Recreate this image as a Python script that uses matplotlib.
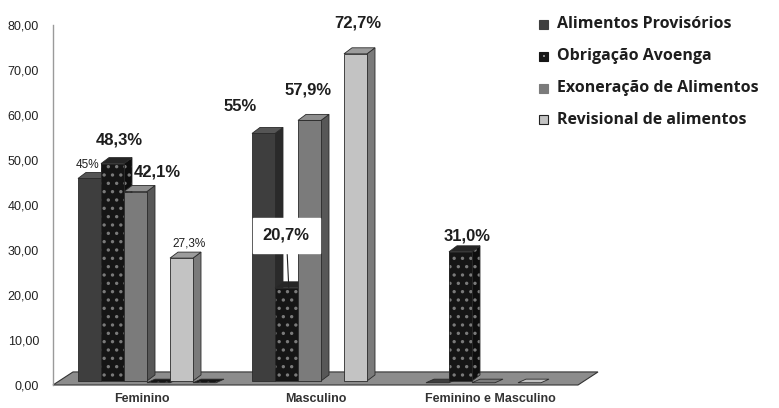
import numpy as np
import matplotlib
matplotlib.use("Agg")
import matplotlib.pyplot as plt
from matplotlib.patches import Polygon, Rectangle

# Data
groups = ["Feminino", "Masculino", "Feminino e Masculino"]
series = ["Alimentos Provisórios", "Obrigação Avoenga",
          "Exoneração de Alimentos", "Revisional de alimentos"]
alimentos_provisorios = [45.0, 55.0, 0.0]
obrigacao_avoenga = [48.3, 20.7, 28.7]
exoneracao_alimentos = [42.1, 57.9, 0.0]
revisional_alimentos = [27.3, 72.7, 0.0]
labels_ap = ["45%", "55%", None]
labels_oa = ["48,3%", "20,7%", "31,0%"]
labels_ea = ["42,1%", "57,9%", None]
labels_ra = ["27,3%", "72,7%", None]
# unnamed empty slots seen on the floor of the first group
extra_slots = [3, 5]
extra_values = [0.0, 0.0]
yticks = np.arange(0, 81, 10)

values = [alimentos_provisorios, obrigacao_avoenga, exoneracao_alimentos, revisional_alimentos]
labels = [labels_ap, labels_oa, labels_ea, labels_ra]
slots = [0, 1, 2, 4]

# style: front, side, top, hatch
styles = [
    dict(front="#3e3e3e", side="#2a2a2a", top="#555555", hatch=None),
    dict(front="#151515", side="#0e0e0e", top="#262626", hatch=".."),
    dict(front="#7b7b7b", side="#575757", top="#8e8e8e", hatch=None),
    dict(front="#c3c3c3", side="#7a7a7a", top="#9c9c9c", hatch=None),
]
# label style: (big bold?, dx pt, dy pt)
label_pos = [
    [(False, -1.8, 9.7), (True, -16.9, 19.1), None],
    [(True, 4.7, 17.0), (True, -1.8, 38.0), (True, 4.7, 11.4)],
    [(True, 15.5, 14.0), (True, -1.1, 21.9), None],
    [(False, 5.4, 10.8), (True, 1.8, 22.2), None],
]

plt.rcParams["hatch.linewidth"] = 1.2
W, H = 779, 408
fig = plt.figure(figsize=(W / 100, H / 100), dpi=100)
ax = fig.add_axes([53 / W, (H - 385) / H, (600 - 53) / W, 360 / H])

pitch = 174 / 23
ddx, ddy = 8 / 23, 6 / 4.5
base = 0.9
edge = "#2a2a2a"

ax.set_xlim(-25 / 23, (600 - 78) / 23)
ax.set_ylim(0, 80)

# floor
fl_x0, fl_x1 = -25 / 23, 500 / 23
fdx, fdy = 20 / 23, 2.9
ax.add_patch(Polygon([(fl_x0, 0), (fl_x1, 0), (fl_x1 + fdx, fdy), (fl_x0 + fdx, fdy)],
                     closed=True, facecolor="#8c8c8c", edgecolor="#333333", lw=0.8,
                     clip_on=False, zorder=1))


def face(pts, color, hatch=None, z=2):
    if hatch:
        ax.add_patch(Polygon(pts, closed=True, facecolor=color, edgecolor="#7a7a7a",
                             hatch=hatch, lw=0, zorder=z, clip_on=False))
        ax.add_patch(Polygon(pts, closed=True, fill=False, edgecolor=edge, lw=0.6,
                             zorder=z, clip_on=False))
    else:
        ax.add_patch(Polygon(pts, closed=True, facecolor=color, edgecolor=edge,
                             lw=0.6, zorder=z, clip_on=False))


def bar3d(x0, v, st, z):
    x1 = x0 + 1
    b = base
    t = base + v
    if v <= 0:
        face([(x0, b - 0.4), (x1, b - 0.4), (x1 + ddx, b + 0.4), (x0 + ddx, b + 0.4)],
             st["front"], st["hatch"], z)
        return
    face([(x1, b), (x1 + ddx, b + ddy), (x1 + ddx, t + ddy), (x1, t)], st["side"], st["hatch"], z)
    face([(x0, t), (x1, t), (x1 + ddx, t + ddy), (x0 + ddx, t + ddy)], st["top"], None, z)
    face([(x0, b), (x1, b), (x1, t), (x0, t)], st["front"], st["hatch"], z + 0.1)


z = 2
for g in range(len(groups)):
    items = [(slots[i], values[i][g], styles[i]) for i in range(len(series))]
    if g == 0:
        items += [(s, v, styles[1]) for s, v in zip(extra_slots, extra_values)]
    for s, v, st in sorted(items, key=lambda it: it[0]):
        bar3d(g * pitch + s, v, st, z)
        z += 0.5

# value labels
for i in range(len(series)):
    for g in range(len(groups)):
        txt = labels[i][g]
        if txt is None:
            continue
        big, ox, oy = label_pos[i][g]
        xc = g * pitch + slots[i] + 0.5
        yt = base + values[i][g]
        kw = dict(fontsize=12 if big else 8.5, fontweight="bold" if big else "normal",
                  family="Liberation Sans", color="#1e1e1e",
                  ha="center", va="center", zorder=50, annotation_clip=False)
        if txt == "20,7%":
            ax.annotate(txt, xy=(xc + 0.1, yt), xytext=(ox, oy), textcoords="offset points",
                        bbox=dict(boxstyle="square,pad=0.6", fc="white", ec="white"),
                        arrowprops=dict(arrowstyle="-", color="#222222", lw=0.8,
                                        shrinkA=0, shrinkB=0), **kw)
        else:
            ax.annotate(txt, xy=(xc, yt), xytext=(ox, oy), textcoords="offset points", **kw)

# axes styling
for sp in ["top", "right", "bottom"]:
    ax.spines[sp].set_visible(False)
ax.spines["left"].set_color("#9a9a9a")
ax.spines["left"].set_linewidth(1.0)
ax.set_yticks(yticks)
ax.set_yticklabels([f"{t:.2f}".replace(".", ",") for t in yticks],
                   fontsize=9, family="Liberation Sans", color="#222222")
ax.tick_params(axis="y", length=0, pad=10)
ax.set_xticks([g * pitch + 2.78 for g in range(len(groups))])
ax.set_xticklabels(groups, fontsize=9, fontweight="bold", family="Liberation Sans",
                   color="#333333")
ax.tick_params(axis="x", length=0, pad=6)
ax.patch.set_visible(False)

# legend
leg_font = ["Open Sans", "DejaVu Sans"]
for i, name in enumerate(series):
    yc = 24.5 + i * 31.8
    st = styles[i]
    fc = st["front"]
    fig.add_artist(Rectangle((539 / W, 1 - (yc + 4.5) / H), 9 / W, 9 / H,
                             transform=fig.transFigure, facecolor=fc,
                             edgecolor="#222222" if i == 3 else fc, lw=0.8))
    if st["hatch"]:
        fig.add_artist(Rectangle((542.5 / W, 1 - (yc + 1) / H), 2 / W, 2 / H,
                                 transform=fig.transFigure, facecolor="#888888", lw=0))
    fig.text(557 / W, 1 - yc / H, name, fontsize=11.5, fontweight="bold",
             family=leg_font, color="#1e1e1e", va="center", ha="left")

fig.savefig("out.png", dpi=100)
